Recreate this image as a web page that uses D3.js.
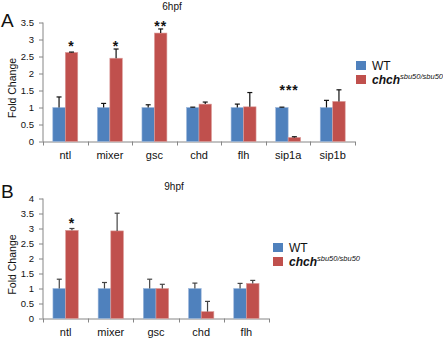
<!DOCTYPE html>
<html>
<head>
<meta charset="utf-8">
<script src="https://cdn.jsdelivr.net/npm/d3@7"></script>
<style>
  body { margin: 0; background: #fff; }
  svg { display: block; font-family: "Liberation Sans", Arial, sans-serif; }
</style>
</head>
<body>
<div id="chart"></div>
<script>
// panel A, 6hpf
const genesA = ["ntl", "mixer", "gsc", "chd", "flh", "sip1a", "sip1b"];
const wtA = [1, 1, 1, 1, 1, 1, 1];
const wtErrA = [0.31, 0.12, 0.08, 0.01, 0.1, 0.01, 0.21];
const mutA = [2.62, 2.45, 3.19, 1.1, 1.02, 0.12, 1.18];
const mutErrA = [0.01, 0.27, 0.12, 0.06, 0.42, 0.02, 0.34];
const starsA = ["*", "*", "**", "", "", "***", ""];
const starYA = [2.91, 2.91, 3.5, 0, 0, 1.59, 0];
const ticksA = [0, 0.5, 1, 1.5, 2, 2.5, 3, 3.5];

// panel B, 9hpf
const genesB = ["ntl", "mixer", "gsc", "chd", "flh"];
const wtB = [1, 1, 1, 1, 1];
const wtErrB = [0.31, 0.2, 0.31, 0.18, 0.17];
const mutB = [2.94, 2.92, 1.0, 0.23, 1.17];
const mutErrB = [0.06, 0.59, 0.14, 0.34, 0.1];
const starsB = ["*", "", "", "", ""];
const starYB = [3.3, 0, 0, 0, 0];
const ticksB = [0, 0.5, 1, 1.5, 2, 2.5, 3, 3.5, 4];

const seriesNames = ["WT", "chch"];
const colors = ["#4F81BD", "#C0504D"];
const strokes = ["#9db7dc", "#dc9e9c"];

const svg = d3.select("#chart").append("svg")
    .attr("width", 443)
    .attr("height", 339);

function panel(o) {
    const g = svg.append("g");
    const x0 = d3.scaleBand()
        .domain(o.genes)
        .range([o.left, o.right])
        .paddingInner(0.44)
        .paddingOuter(0.22);
    const x1 = d3.scaleBand()
        .domain(seriesNames)
        .range([0, x0.bandwidth()]);
    const y = d3.scaleLinear()
        .domain([0, o.ymax])
        .range([o.bottom, o.top]);

    const rows = o.genes.map((gene, i) => ({
        gene: gene,
        vals: [
            { s: "WT", v: o.wt[i], e: o.wtErr[i] },
            { s: "chch", v: o.mut[i], e: o.mutErr[i] }
        ],
        star: o.stars[i],
        starY: o.starY[i]
    }));

    // y axis
    const ya = g.append("g")
        .attr("transform", `translate(${o.left},0)`)
        .call(d3.axisLeft(y).tickValues(o.ticks).tickSize(4).tickPadding(5).tickFormat(d3.format("")));
    ya.select(".domain").attr("stroke", "#868686").attr("d", `M0,${o.top}V${o.bottom}`);
    ya.selectAll(".tick line").attr("stroke", "#868686");
    ya.selectAll(".tick text").attr("font-size", "9.5px").attr("fill", "#111")
        .attr("font-family", "Liberation Sans, Arial, sans-serif");

    // x axis, ticks sit between the categories
    const step = x0.step();
    const xa = g.append("g");
    xa.append("line")
        .attr("x1", o.left).attr("x2", o.right)
        .attr("y1", o.bottom + 0.5).attr("y2", o.bottom + 0.5)
        .attr("stroke", "#868686");
    xa.selectAll(".xt")
        .data(d3.range(o.genes.length + 1))
        .enter()
        .append("line")
        .attr("x1", (d) => Math.round(o.left + d * step) + 0.5)
        .attr("x2", (d) => Math.round(o.left + d * step) + 0.5)
        .attr("y1", o.bottom)
        .attr("y2", o.bottom + 4)
        .attr("stroke", "#868686");
    xa.selectAll(".xl")
        .data(o.genes)
        .enter()
        .append("text")
        .attr("x", (d) => x0(d) + x0.bandwidth() / 2)
        .attr("y", o.bottom + 17)
        .attr("text-anchor", "middle")
        .attr("font-size", "11px")
        .attr("fill", "#111")
        .text((d) => d);

    // bars
    const grp = g.selectAll(".grp")
        .data(rows)
        .enter()
        .append("g")
        .attr("transform", (d) => `translate(${x0(d.gene)},0)`);
    grp.selectAll("rect")
        .data((d) => d.vals)
        .enter()
        .append("rect")
        .attr("x", (d) => x1(d.s))
        .attr("y", (d) => y(d.v))
        .attr("width", x1.bandwidth())
        .attr("height", (d) => y(0) - y(d.v))
        .attr("fill", (d, i) => colors[i])
        .attr("stroke", (d, i) => strokes[i])
        .attr("stroke-width", 0.6);

    // error bars, top only
    const eb = grp.selectAll(".err")
        .data((d) => d.vals)
        .enter()
        .append("g")
        .attr("stroke", o.errColor)
        .attr("stroke-width", 1.2);
    eb.append("line")
        .attr("x1", (d) => x1(d.s) + x1.bandwidth() / 2)
        .attr("x2", (d) => x1(d.s) + x1.bandwidth() / 2)
        .attr("y1", (d) => y(d.v))
        .attr("y2", (d) => y(d.v + d.e));
    eb.append("line")
        .attr("x1", (d) => x1(d.s) + x1.bandwidth() / 2 - 2.5)
        .attr("x2", (d) => x1(d.s) + x1.bandwidth() / 2 + 2.5)
        .attr("y1", (d) => y(d.v + d.e))
        .attr("y2", (d) => y(d.v + d.e));

    // significance stars (*** sits over the whole group)
    g.selectAll(".star")
        .data(rows.filter((d) => d.star))
        .enter()
        .append("text")
        .attr("x", (d) => d.star.length === 3
            ? x0(d.gene) + x0.bandwidth() / 2 + 1
            : x0(d.gene) + x1("chch") + x1.bandwidth() / 2)
        .attr("y", (d) => y(d.starY) + 8)
        .attr("text-anchor", "middle")
        .attr("font-size", "14px")
        .attr("font-weight", "bold")
        .attr("letter-spacing", "1px")
        .attr("fill", "#111")
        .text((d) => d.star);

    // panel letter, title, y label
    g.append("text").attr("x", 1).attr("y", o.letterY)
        .attr("font-size", "19px").attr("fill", "#111").text(o.letter);
    g.append("text").attr("x", o.titleX).attr("y", o.titleY)
        .attr("text-anchor", "middle").attr("font-size", "10px").attr("fill", "#111").text(o.title);
    g.append("text")
        .attr("transform", `translate(16,${(o.top + o.bottom) / 2 + 6}) rotate(-90)`)
        .attr("text-anchor", "middle")
        .attr("font-size", "10.5px")
        .attr("fill", "#111")
        .text("Fold Change");

    // legend
    const lg = g.append("g").attr("transform", `translate(${o.legX},${o.legY})`);
    seriesNames.forEach((s, i) => {
        lg.append("rect")
            .attr("x", 0).attr("y", i * 14)
            .attr("width", 10).attr("height", 9)
            .attr("fill", colors[i]);
    });
    lg.append("text").attr("x", 16).attr("y", 8.5)
        .attr("font-size", "12px").attr("fill", "#111").text("WT");
    const t2 = lg.append("text").attr("x", 16).attr("y", 22.5)
        .attr("font-size", "12px").attr("font-style", "italic").attr("fill", "#111");
    t2.append("tspan").attr("font-weight", "bold").text("chch");
    t2.append("tspan").attr("font-size", "7.5px").attr("dy", -5).text("sbu50/sbu50");
}

panel({
    genes: genesA, wt: wtA, wtErr: wtErrA, mut: mutA, mutErr: mutErrA,
    stars: starsA, starY: starYA, ticks: ticksA, ymax: 3.5,
    left: 43, right: 355, top: 22.5, bottom: 141.5,
    letter: "A", letterY: 27, title: "6hpf", titleX: 172, titleY: 10,
    legX: 356, legY: 61, errColor: "#111"
});

panel({
    genes: genesB, wt: wtB, wtErr: wtErrB, mut: mutB, mutErr: mutErrB,
    stars: starsB, starY: starYB, ticks: ticksB, ymax: 4,
    left: 43, right: 269, top: 198.5, bottom: 318.5,
    letter: "B", letterY: 198, title: "9hpf", titleX: 174, titleY: 190,
    legX: 273, legY: 243, errColor: "#444"
});
</script>
</body>
</html>
